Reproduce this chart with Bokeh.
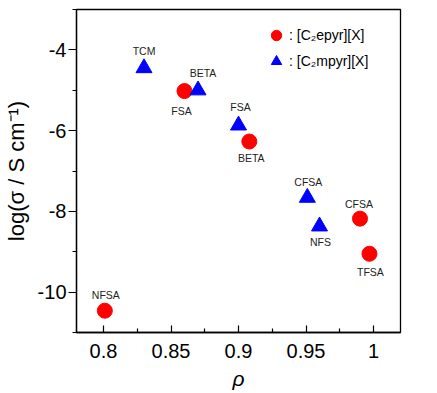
from bokeh.plotting import figure
from bokeh.models import (ColumnDataSource, FixedTicker, Legend, LegendItem, Range1d)
from bokeh.core.properties import value
from bokeh.embed import file_html
from bokeh.resources import INLINE

# ---- data ----
epyr_rho = [0.860, 0.908, 0.990, 0.997, 0.801]
epyr_logs = [-5.02, -6.27, -8.18, -9.05, -10.46]
epyr_labels = ["FSA", "BETA", "CFSA", "TFSA", "NFSA"]

mpyr_rho = [0.830, 0.870, 0.900, 0.951, 0.960]
mpyr_logs = [-4.45, -5.00, -5.87, -7.66, -8.37]
mpyr_labels = ["TCM", "BETA", "FSA", "CFSA", "NFS"]

x_ticks = [0.8, 0.85, 0.9, 0.95, 1.0]
x_tick_labels = ["0.8", "0.85", "0.9", "0.95", "1"]
y_ticks = [-10, -8, -6, -4]
y_tick_labels = ["-10", "-8", "-6", "-4"]

# label placement (screen px offsets, style only)
epyr_dx = [-3, 2, -1, 1, 1]
epyr_dy = [20, 16, -15, 18, -16]
mpyr_dx = [0, 5, 2, 1, 1]
mpyr_dy = [-17, -17, -18, -16, 16]

FONT = "Liberation Sans"

p = figure(frame_width=324, frame_height=323, output_backend="svg", toolbar_location=None,
           x_range=Range1d(0.78, 1.02), y_range=Range1d(-11, -3),
           min_border_left=69, min_border_right=28, min_border_top=9,
           min_border_bottom=45)
p.grid.visible = False
p.outline_line_color = "black"
p.outline_line_width = 1.3
p.background_fill_color = "white"
p.border_fill_color = "white"

src_e = ColumnDataSource(dict(x=epyr_rho, y=epyr_logs, t=epyr_labels, dx=epyr_dx, dy=epyr_dy))
src_m = ColumnDataSource(dict(x=mpyr_rho, y=mpyr_logs, t=mpyr_labels, dx=mpyr_dx, dy=mpyr_dy))

r_e = p.scatter("x", "y", source=src_e, marker="circle", size=15,
                fill_color="#ff0000", line_color="#ff0000")
r_m = p.scatter("x", "y", source=src_m, marker="triangle", size=16,
                fill_color="#0000ff", line_color="#0000ff")

for s in (src_e, src_m):
    p.text("x", "y", text="t", source=s, x_offset="dx", y_offset="dy",
           text_align="center", text_baseline="middle",
           text_font_size="10.5px", text_color="#222222", text_font=value(FONT))

# axes
xa = p.xaxis[0]
xa.ticker = FixedTicker(ticks=x_ticks, minor_ticks=[0.825, 0.875, 0.925, 0.975, 1.025])
xa.major_tick_in = 7
xa.major_tick_out = 0
xa.minor_tick_in = 4
xa.minor_tick_out = 0
xa.major_label_standoff = 11
xa.axis_label = "ρ"
xa.axis_label_text_font_style = "italic"
xa.axis_label_text_font_size = "21px"
xa.axis_label_standoff = 6
xa.major_label_overrides = dict(zip(x_ticks, x_tick_labels))

ya = p.yaxis[0]
ya.ticker = FixedTicker(ticks=y_ticks, minor_ticks=[-11, -9, -7, -5, -3])
ya.major_tick_in = 0
ya.major_tick_out = 8
ya.minor_tick_in = 0
ya.minor_tick_out = 4
ya.major_label_standoff = 2
ya.axis_label = "log(σ / S cm⁻¹)"
ya.axis_label_text_font_style = "normal"
ya.axis_label_text_font_size = "22px"
ya.axis_label_standoff = 6
ya.major_label_overrides = dict(zip(y_ticks, y_tick_labels))

for ax in (xa, ya):
    ax.axis_line_color = "black"
    ax.axis_line_width = 1.3
    ax.major_tick_line_width = 1.2
    ax.minor_tick_line_width = 1.2
    ax.major_label_text_font = FONT
    ax.major_label_text_font_size = "20px"
    ax.major_label_text_color = "black"
    ax.axis_label_text_font = FONT
    ax.axis_label_text_color = "black"

legend = Legend(items=[LegendItem(label=": [C₂epyr][X]", renderers=[r_e]),
                       LegendItem(label=": [C₂mpyr][X]", renderers=[r_m])],
                location=(187, 258), orientation="vertical",
                border_line_alpha=0, background_fill_alpha=0,
                padding=0, margin=0, spacing=0,
                glyph_width=26, glyph_height=26, label_height=26,
                label_standoff=-5, label_text_font=FONT,
                label_text_font_size="14px", label_text_color="black")
p.add_layout(legend, "center")

open("out.html", "w").write(file_html(p, INLINE))
